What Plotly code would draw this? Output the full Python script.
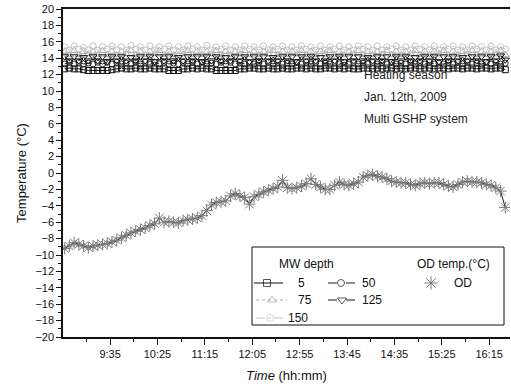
import pandas as pd
import plotly.graph_objects as go

# ---- data: multi-well (MW) temperatures by depth and outdoor (OD) temperature ----
start_time = "2009-01-12 08:47"
interval = "5min"

mw_5 = [12.7, 12.8, 12.7, 12.7, 12.6, 12.5, 12.5, 12.5, 12.5, 12.5,
        12.6, 12.7, 12.8, 12.7, 12.7, 12.8, 12.7, 12.7, 12.8, 12.7,
        12.7, 12.7, 12.5, 12.5, 12.5, 12.7, 12.7, 12.8, 12.7, 12.8,
        12.7, 12.7, 12.5, 12.5, 12.5, 12.5, 12.5, 12.7, 12.7, 12.8,
        12.8, 12.7, 12.7, 12.8, 12.7, 12.7, 12.8, 12.7, 12.7, 12.8,
        12.8, 12.7, 12.8, 12.7, 12.7, 12.8, 12.8, 12.7, 12.8, 12.7,
        12.8, 12.7, 12.7, 12.8, 12.8, 12.7, 12.8, 12.7, 12.8, 12.8,
        12.7, 12.8, 12.7, 12.8, 12.8, 12.7, 12.8, 12.8, 12.7, 12.8,
        12.8, 12.7, 12.8, 12.8, 12.7, 12.8, 12.8, 12.7, 12.8, 12.8,
        12.7, 12.8, 12.8, 12.6]

mw_50 = [13.3, 13.5, 13.3, 13.5, 13.3, 13.4, 13.3, 13.5, 13.3, 13.5,
         13.3, 13.5, 13.3, 13.4, 13.3, 13.5, 13.3, 13.5, 13.3, 13.5,
         13.3, 13.5, 13.3, 13.4, 13.3, 13.5, 13.3, 13.5, 13.3, 13.5,
         13.3, 13.4, 13.3, 13.5, 13.3, 13.5, 13.3, 13.5, 13.3, 13.4,
         13.3, 13.5, 13.3, 13.5, 13.3, 13.5, 13.3, 13.4, 13.3, 13.5,
         13.3, 13.5, 13.3, 13.5, 13.3, 13.4, 13.3, 13.5, 13.3, 13.5,
         13.3, 13.5, 13.3, 13.4, 13.3, 13.5, 13.3, 13.5, 13.3, 13.5,
         13.3, 13.4, 13.3, 13.5, 13.3, 13.5, 13.3, 13.5, 13.3, 13.4,
         13.3, 13.5, 13.3, 13.5, 13.3, 13.5, 13.3, 13.4, 13.3, 13.5,
         13.3, 13.5, 13.3, 13.4]

mw_75 = [14.8, 14.4, 14.9, 14.4, 14.8, 14.5, 14.8, 14.4, 14.9, 14.4,
         14.8, 14.4, 14.8, 14.5, 14.9, 14.4, 14.8, 14.4, 14.8, 14.5,
         14.9, 14.4, 14.8, 14.4, 14.8, 14.5, 14.9, 14.4, 14.8, 14.4,
         14.8, 14.5, 14.9, 14.4, 14.8, 14.4, 14.8, 14.5, 14.9, 14.4,
         14.8, 14.4, 14.8, 14.5, 14.9, 14.4, 14.8, 14.4, 14.8, 14.5,
         14.9, 14.4, 14.8, 14.4, 14.8, 14.5, 14.9, 14.4, 14.8, 14.4,
         14.8, 14.5, 14.9, 14.4, 14.8, 14.4, 14.8, 14.5, 14.9, 14.4,
         14.8, 14.4, 14.8, 14.5, 14.9, 14.4, 14.8, 14.4, 14.8, 14.5,
         14.9, 14.4, 14.8, 14.4, 14.8, 14.5, 14.9, 14.4, 14.8, 14.4,
         14.8, 14.5, 14.9, 14.4]

mw_125 = [14.2, 13.7, 14.2, 13.7, 14.1, 13.7, 14.2, 13.7, 14.2, 13.6,
          14.2, 13.7, 14.2, 13.7, 14.1, 13.7, 14.2, 13.7, 14.2, 13.6,
          14.2, 13.7, 14.2, 13.7, 14.1, 13.7, 14.2, 13.7, 14.2, 13.6,
          14.2, 13.7, 14.2, 13.7, 14.1, 13.7, 14.2, 13.7, 14.2, 13.6,
          14.2, 13.7, 14.2, 13.7, 14.1, 13.7, 14.2, 13.7, 14.2, 13.6,
          14.2, 13.7, 14.2, 13.7, 14.1, 13.7, 14.2, 13.7, 14.2, 13.6,
          14.2, 13.7, 14.2, 13.7, 14.1, 13.7, 14.2, 13.7, 14.2, 13.6,
          14.2, 13.7, 14.2, 13.7, 14.1, 13.7, 14.2, 13.7, 14.2, 13.6,
          14.2, 13.7, 14.2, 13.7, 14.1, 13.7, 14.2, 13.7, 14.2, 13.6,
          14.2, 13.7, 14.3, 13.8]

mw_150 = [15.4, 15.0, 15.5, 15.1, 15.3, 15.0, 15.5, 15.0, 15.4, 15.1,
          15.5, 15.0, 15.4, 15.0, 15.6, 15.1, 15.4, 15.0, 15.5, 15.0,
          15.4, 15.1, 15.5, 15.0, 15.4, 15.0, 15.5, 15.1, 15.4, 15.0,
          15.6, 15.0, 15.4, 15.1, 15.5, 15.0, 15.4, 15.0, 15.5, 15.1,
          15.4, 15.0, 15.5, 15.0, 15.4, 15.1, 15.5, 15.0, 15.4, 15.0,
          15.5, 15.1, 15.4, 15.0, 15.5, 15.0, 15.4, 15.1, 15.5, 15.0,
          15.4, 15.0, 15.5, 15.1, 15.4, 15.0, 15.5, 15.0, 15.4, 15.1,
          15.5, 15.0, 15.4, 15.0, 15.5, 15.1, 15.4, 15.0, 15.5, 15.0,
          15.4, 15.1, 15.5, 15.0, 15.4, 15.0, 15.5, 15.1, 15.4, 15.0,
          15.5, 15.0, 15.4, 15.1]

od_temp = [-9.2, -8.9, -8.5, -8.7, -8.9, -9.1, -8.9, -8.8, -8.7, -8.6,
           -8.4, -8.2, -7.9, -7.6, -7.3, -7.1, -6.9, -6.7, -6.4, -6.2,
           -5.5, -6.0, -5.9, -6.0, -6.1, -5.8, -5.7, -5.6, -5.5, -5.2,
           -4.6, -3.9, -3.6, -3.5, -3.4, -2.8, -2.5, -2.8, -3.0, -3.8,
           -2.9, -2.6, -2.3, -2.1, -1.9, -1.7, -0.9, -1.8, -1.9, -1.8,
           -1.6, -1.3, -0.7, -1.4, -1.7, -2.0, -2.0, -1.5, -1.1, -1.4,
           -1.5, -1.3, -1.1, -0.5, -0.3, -0.2, -0.4, -0.5, -0.7, -1.0,
           -1.1, -1.2, -1.2, -1.4, -1.5, -1.3, -1.2, -1.3, -1.2, -1.2,
           -1.4, -1.6, -1.7, -1.4, -1.1, -1.0, -1.1, -1.1, -1.2, -1.4,
           -1.5, -1.8, -2.2, -4.2]

tick_labels = ["9:35", "10:25", "11:15", "12:05", "12:55", "13:45", "14:35", "15:25", "16:15"]

times = pd.date_range(start_time, periods=len(od_temp), freq=interval)
tick_vals = [pd.Timestamp("2009-01-12 " + t) for t in tick_labels]

FONT = "Liberation Sans, Arial, sans-serif"
W, H = 511, 389
ML, MR, MT, MB = 63, 1, 9, 52


def px(x):
    return (x - ML) / (W - ML - MR)


def py(y):
    return (H - MB - y) / (H - MT - MB)


# series styles: (name, values, symbol, colour, dash, size)
mw_series = [
    ("5", mw_5, "square-open", "#111111", "solid", 6),
    ("50", mw_50, "circle-open", "#222222", "dash", 6),
    ("75", mw_75, "triangle-up-open", "#a8a8a8", "dot", 7),
    ("125", mw_125, "triangle-down-open", "#111111", "dash", 7),
    ("150", mw_150, "circle-open", "#c4c4c4", "dashdot", 6),
]

fig = go.Figure()

for name, vals, sym, col, dash, size in mw_series:
    fig.add_trace(go.Scatter(
        x=times, y=vals, mode="lines+markers", name=name,
        line=dict(color=col, width=1, dash=dash),
        marker=dict(symbol=sym, size=size, color=col, line=dict(width=1, color=col)),
        showlegend=False,
    ))

fig.add_trace(go.Scatter(
    x=times, y=od_temp, mode="lines+markers", name="OD",
    line=dict(color="#222222", width=1),
    marker=dict(symbol="asterisk-open", size=10, color="#7a7a7a", line=dict(width=1, color="#7a7a7a")),
    showlegend=False,
))

# ---- hand-built legend drawn on an overlay axis in plot-fraction units ----
legend_rows = [
    # name, sample line x-range (px), marker x (px), row y (px), label x (px)
    ("5", (254, 283), 267, 283, 296),
    ("50", (328, 356), 341, 283, 360),
    ("75", (256, 287), 272, 300, 296),
    ("125", (328, 358), 342, 300, 360),
    ("150", (256, 284), 270, 318, 286),
]
style = {s[0]: s for s in mw_series}
for name, (x0, x1), xm, yr, xl in legend_rows:
    _, _, sym, col, dash, size = style[name]
    fig.add_trace(go.Scatter(
        x=[px(x0), px(xm), px(x1)], y=[py(yr)] * 3, xaxis="x2", yaxis="y2",
        mode="lines+markers", showlegend=False, hoverinfo="skip",
        line=dict(color=col, width=1, dash=dash),
        marker=dict(symbol=sym, size=[0, size + 1, 0], color=col, line=dict(width=1, color=col)),
    ))
    fig.add_annotation(x=px(xl), y=py(yr), xref="paper", yref="paper", text=name,
                       showarrow=False, xanchor="left", yanchor="middle",
                       font=dict(family=FONT, size=12, color="#111"))

fig.add_trace(go.Scatter(
    x=[px(431)], y=[py(283)], xaxis="x2", yaxis="y2", mode="markers",
    showlegend=False, hoverinfo="skip",
    marker=dict(symbol="asterisk-open", size=11, color="#7a7a7a", line=dict(width=1, color="#7a7a7a")),
))
fig.add_annotation(x=px(452), y=py(283), xref="paper", yref="paper", text="OD",
                   showarrow=False, xanchor="left", yanchor="middle",
                   font=dict(family=FONT, size=12, color="#111"))
fig.add_annotation(x=px(306), y=py(264), xref="paper", yref="paper", text="MW depth",
                   showarrow=False, xanchor="center", yanchor="middle",
                   font=dict(family=FONT, size=12, color="#111"))
fig.add_annotation(x=px(453), y=py(264), xref="paper", yref="paper", text="OD temp.(°C)",
                   showarrow=False, xanchor="center", yanchor="middle",
                   font=dict(family=FONT, size=12, color="#111"))
fig.add_shape(type="rect", xref="paper", yref="paper",
              x0=px(252), x1=px(504), y0=py(325), y1=py(247),
              line=dict(color="#111", width=1))

# ---- caption text inside the plot ----
for i, line in enumerate(["Heating season", "Jan. 12th, 2009", "Multi GSHP system"]):
    fig.add_annotation(x=px(362), y=py(75 + 22 * i), xref="paper", yref="paper", text=line,
                       showarrow=False, xanchor="left", yanchor="middle",
                       font=dict(family=FONT, size=12, color="#222"))

fig.update_layout(
    width=W, height=H,
    margin=dict(l=ML, r=MR, t=MT, b=MB),
    paper_bgcolor="white", plot_bgcolor="white",
    font=dict(family=FONT, size=11, color="#111"),
    xaxis=dict(
        range=["2009-01-12 08:45:18", "2009-01-12 16:37:00"],
        tickmode="array", tickvals=tick_vals, ticktext=tick_labels,
        ticks="outside", ticklen=6, tickwidth=1, tickcolor="#111",
        minor=dict(ticks="outside", ticklen=3, tickcolor="#111",
                   tickmode="linear", tick0="2009-01-12 09:10", dtick=25 * 60 * 1000),
        showline=True, linecolor="#111", linewidth=1.5, mirror=True,
        showgrid=False, zeroline=False,
        tickfont=dict(family=FONT, size=11, color="#111"),
        title=dict(text="<i>Time</i> (hh:mm)", font=dict(family=FONT, size=13, color="#111"), standoff=12),
    ),
    yaxis=dict(
        range=[-20, 20], dtick=2, tick0=0,
        ticks="outside", ticklen=5, tickwidth=1, tickcolor="#111",
        minor=dict(ticks="outside", ticklen=3, tickcolor="#111", dtick=1),
        showline=True, linecolor="#111", linewidth=1.5,
        showgrid=False, zeroline=False,
        tickfont=dict(family=FONT, size=11, color="#111"),
        title=dict(text="Temperature (°C)", font=dict(family=FONT, size=13, color="#111"), standoff=6),
    ),
    xaxis2=dict(overlaying="x", range=[0, 1], visible=False, anchor="y2"),
    yaxis2=dict(overlaying="y", range=[0, 1], visible=False, anchor="x2"),
)

fig.write_html("out.html")
